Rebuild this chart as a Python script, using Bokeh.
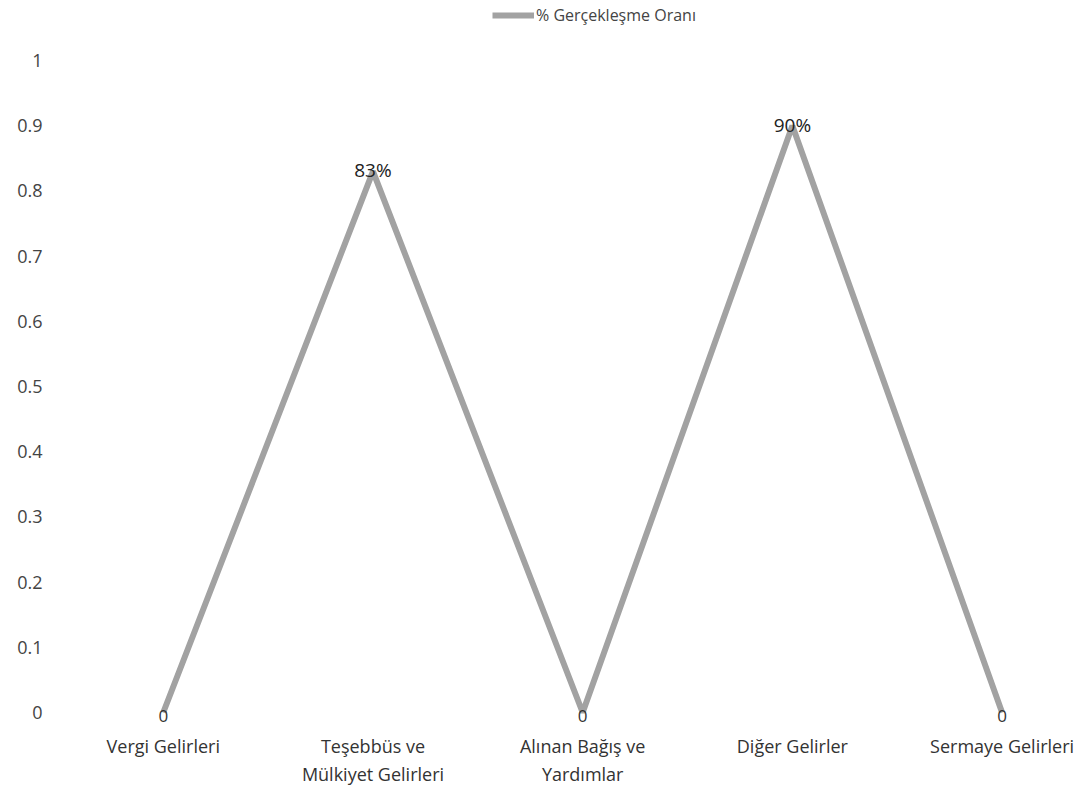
from bokeh.plotting import figure
from bokeh.models import (ColumnDataSource, FixedTicker, NumeralTickFormatter,
                          Range1d, Legend, LegendItem, LabelSet)
from bokeh.core.properties import value
from bokeh.embed import file_html
from bokeh.resources import INLINE

categories = ["Vergi Gelirleri", "Teşebbüs ve\nMülkiyet Gelirleri",
              "Alınan Bağış ve\nYardımlar", "Diğer Gelirler", "Sermaye Gelirleri"]
values = [0, 0.83, 0, 0.90, 0]
series_name = "% Gerçekleşme Oranı"
y_ticks = [0, 0.1, 0.2, 0.3, 0.4, 0.5, 0.6, 0.7, 0.8, 0.9, 1]

xs = list(range(len(categories)))
labels = ["0" if v == 0 else f"{round(v * 100)}%" for v in values]
src = ColumnDataSource(dict(x=xs, y=values))

FONT = "Open Sans"
FRAME_W, FRAME_H = 1015, 725

p = figure(width=1079, height=788, frame_width=FRAME_W, frame_height=FRAME_H,
           output_backend="svg", toolbar_location=None,
           x_range=Range1d(-0.49, 4.35), y_range=Range1d(-0.02, 1.092),
           min_border_left=60, min_border_right=4, min_border_top=0,
           min_border_bottom=63)
p.outline_line_color = None
p.xgrid.grid_line_color = None
p.ygrid.grid_line_color = None

r = p.line("x", "y", source=src, line_color="#a2a2a2", line_width=6)

zero_src = ColumnDataSource(dict(x=[x for x, v in zip(xs, values) if v == 0],
                                 y=[v for v in values if v == 0],
                                 lab=[l for l, v in zip(labels, values) if v == 0]))
pos_src = ColumnDataSource(dict(x=[x for x, v in zip(xs, values) if v != 0],
                                y=[v for v in values if v != 0],
                                lab=[l for l, v in zip(labels, values) if v != 0]))
p.add_layout(LabelSet(x="x", y="y", text="lab", source=zero_src, text_align="center",
                      text_baseline="middle", text_font=value(FONT), text_font_size="17px",
                      text_color="#333333", y_offset=-4))
p.add_layout(LabelSet(x="x", y="y", text="lab", source=pos_src, text_align="center",
                      text_baseline="bottom", text_font=value(FONT), text_font_size="19px",
                      text_color="#222222", y_offset=-12))

p.xaxis.ticker = FixedTicker(ticks=xs)
p.xaxis.major_label_overrides = {i: c for i, c in enumerate(categories)}
p.xaxis.axis_line_color = None
p.xaxis.major_tick_line_color = None
p.xaxis.minor_tick_line_color = None
p.xaxis.major_label_text_font = FONT
p.xaxis.major_label_text_font_size = "18px"
p.xaxis.major_label_text_color = "#333333"
p.xaxis.major_label_standoff = 2

p.yaxis.ticker = FixedTicker(ticks=y_ticks)
p.yaxis.formatter = NumeralTickFormatter(format="0.[0]")
p.yaxis.axis_line_color = None
p.yaxis.major_tick_line_color = None
p.yaxis.minor_tick_line_color = None
p.yaxis.major_label_text_font = FONT
p.yaxis.major_label_text_font_size = "18px"
p.yaxis.major_label_text_color = "#444444"
p.yaxis.major_label_standoff = 12

legend = Legend(items=[LegendItem(label=series_name, renderers=[r])],
                location=(432, FRAME_H - 26), orientation="horizontal",
                label_text_font=FONT, label_text_font_size="16px",
                label_text_color="#444444", glyph_width=42, glyph_height=10,
                border_line_color=None, background_fill_alpha=0,
                margin=0, padding=1, label_standoff=2)
p.add_layout(legend, "center")

open("out.html", "w").write(file_html(p, INLINE))
